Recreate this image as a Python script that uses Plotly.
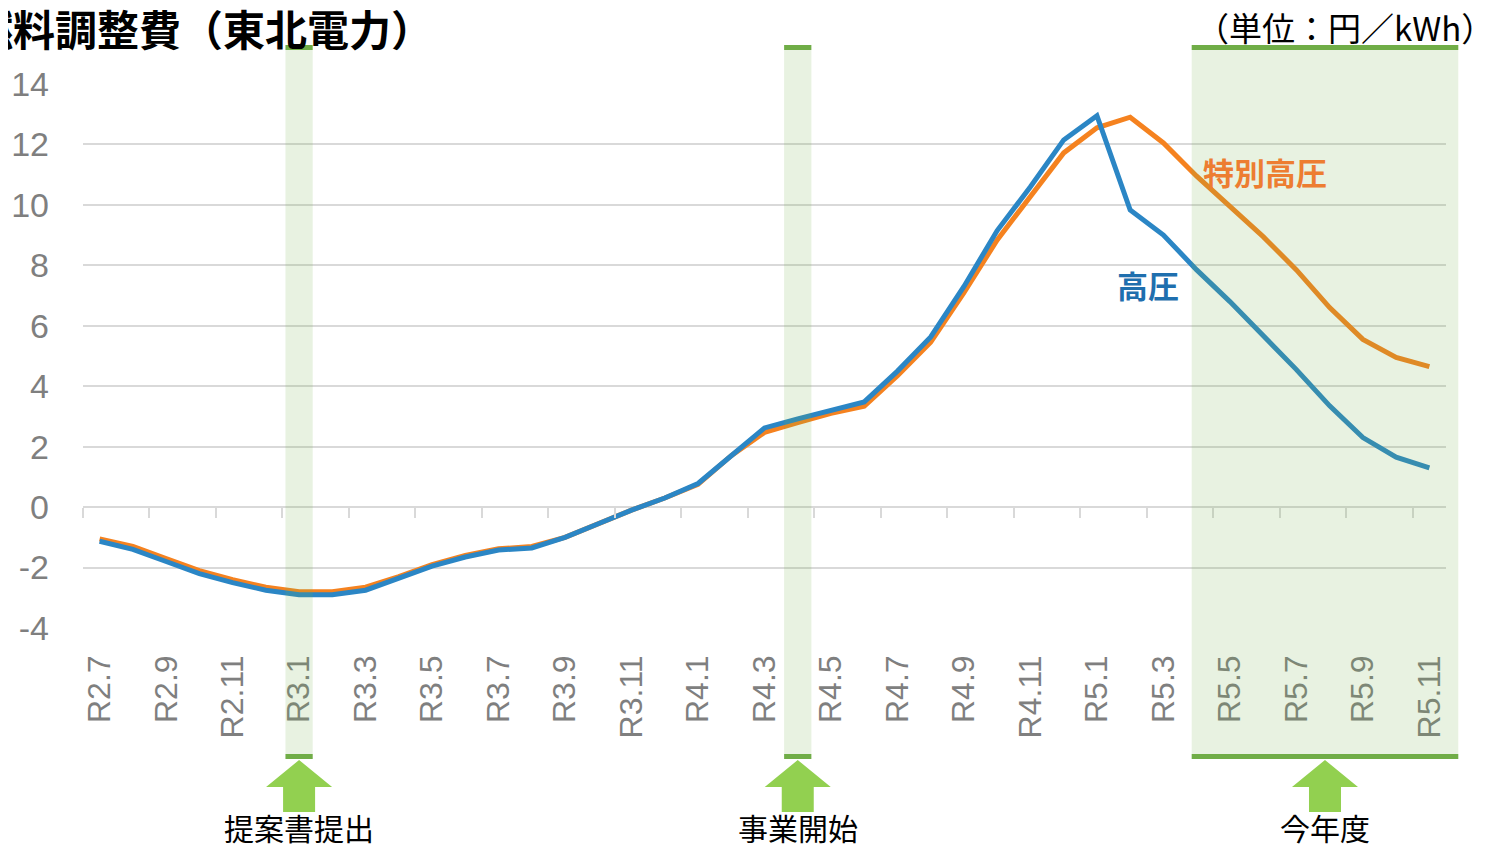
import plotly.graph_objects as go

# ---------------- data ----------------
months = (["R2.%d" % m for m in range(7, 13)] +
          ["R3.%d" % m for m in range(1, 13)] +
          ["R4.%d" % m for m in range(1, 13)] +
          ["R5.%d" % m for m in range(1, 12)])

koatsu = [-1.13, -1.4, -1.8, -2.2, -2.5, -2.75, -2.9, -2.9, -2.75, -2.35,
          -1.95, -1.65, -1.42, -1.35, -1.0, -0.55, -0.1, 0.3, 0.78, 1.7,
          2.62, 2.92, 3.22, 3.48, 4.5, 5.63, 7.3, 9.15, 10.6, 12.15,
          12.95, 9.83, 9.0, 7.85, 6.8, 5.7, 4.55, 3.35, 2.3, 1.65, 1.3]

tokubetsu = [-1.05, -1.3, -1.7, -2.1, -2.4, -2.65, -2.8, -2.8, -2.65, -2.3,
             -1.9, -1.6, -1.38, -1.3, -1.0, -0.55, -0.1, 0.3, 0.75, 1.7,
             2.47, 2.8, 3.1, 3.34, 4.35, 5.46, 7.1, 8.84, 10.25, 11.72,
             12.55, 12.9, 12.05, 10.95, 9.95, 8.95, 7.85, 6.6, 5.55, 4.95, 4.65]

tick_labels = months[::2]
y_ticks = [-4, -2, 0, 2, 4, 6, 8, 10, 12, 14]
y_tick_text = [str(v) for v in y_ticks]

# highlighted periods: (centre month, half width in months, label)
events = [("R3.1", 0.41, "提案書提出"),
          ("R4.4", 0.41, "事業開始")]
current_year = ("R5.4", "R5.11", "今年度")

# ---------------- layout helpers ----------------
OFF = 8                      # default page body margin
W, H = 1486 - OFF, 849 - OFF
L, R, T, B = 83, 1446, 84, 628   # plot area in page pixels
XMIN, XMAX = -0.5, len(months) - 0.5


def py(p):  # page pixel row -> paper y
    return (B - p) / (B - T)


def pxx(p):  # page pixel column -> paper x
    return (p - L) / (R - L)


def cat_to_paper(c):  # category index -> paper x (same mapping as x axis)
    return (c - XMIN) / (XMAX - XMIN)


idx = list(range(len(months)))
BLUE = "#2b86c5"
ORANGE = "#f5821f"
GREEN = "#70ad47"
ARROW = "#92d050"
FILL = "rgba(120,180,80,0.17)"
GRID = "#d9d9d9"
GRAY = "#7f7f7f"
CJK = "Noto Sans CJK JP"

fig = go.Figure()
fig.add_trace(go.Scatter(x=idx, y=tokubetsu, mode="lines", name="特別高圧",
                         line=dict(color=ORANGE, width=5)))
fig.add_trace(go.Scatter(x=idx, y=koatsu, mode="lines", name="高圧",
                         line=dict(color=BLUE, width=5)))
# invisible trace for the tick axis at zero
fig.add_trace(go.Scatter(x=[idx[0], idx[-1]], y=[0, 0], mode="lines",
                         line=dict(width=0), xaxis="x2", hoverinfo="skip",
                         showlegend=False))

shapes = []
annotations = []

spans = []
for m, hw, lab in events:
    c = months.index(m)
    spans.append((c - hw, c + hw, c, lab))
c0 = months.index(current_year[0]) - 0.15
c1 = months.index(current_year[1]) + 0.87
spans.append((c0, c1, (c0 + c1) / 2, current_year[2]))

for x0, x1, xc, lab in spans:
    X0, X1, XC = cat_to_paper(x0), cat_to_paper(x1), cat_to_paper(xc)
    shapes.append(dict(type="rect", xref="paper", yref="paper", x0=X0, x1=X1,
                       y0=py(754), y1=py(50), fillcolor=FILL, line_width=0,
                       layer="above"))
    shapes.append(dict(type="rect", xref="paper", yref="paper", x0=X0, x1=X1,
                       y0=py(50), y1=py(45), fillcolor=GREEN, line_width=0,
                       layer="above"))
    shapes.append(dict(type="rect", xref="paper", yref="paper", x0=X0, x1=X1,
                       y0=py(759), y1=py(754), fillcolor=GREEN, line_width=0,
                       layer="above"))
    shapes.append(dict(type="path", xref="paper", yref="paper",
                       xsizemode="pixel", ysizemode="pixel",
                       xanchor=XC, yanchor=py(760),
                       path="M 0,0 L 33,-27 L 16,-27 L 16,-52 L -16,-52 "
                            "L -16,-27 L -33,-27 Z",
                       fillcolor=ARROW, line_width=0, layer="above"))
    annotations.append(dict(xref="paper", yref="paper", x=XC, y=py(827),
                            text=lab, showarrow=False, xanchor="center",
                            yanchor="middle",
                            font=dict(family=CJK, size=30, color="#000000")))

annotations += [
    dict(xref="paper", yref="paper", x=pxx(-31), y=py(27),
         text="<b>燃料調整費（東北電力）</b>", showarrow=False,
         xanchor="left", yanchor="middle",
         font=dict(family=CJK, size=42, color="#000000")),
    dict(xref="paper", yref="paper", x=pxx(1496), y=py(27),
         text="（単位：円／kWh）", showarrow=False,
         xanchor="right", yanchor="middle",
         font=dict(family=CJK, size=33, color="#000000")),
    dict(xref="x", yref="y", x=35.07, y=11.1, text="<b>特別高圧</b>",
         showarrow=False, xanchor="center", yanchor="middle",
         font=dict(family=CJK, size=31, color="#ed7d31")),
    dict(xref="x", yref="y", x=31.55, y=7.35, text="<b>高圧</b>",
         showarrow=False, xanchor="center", yanchor="middle",
         font=dict(family=CJK, size=31, color="#1f6fae")),
]

fig.update_layout(
    width=W, height=H,
    margin=dict(l=L - OFF, r=W - (R - OFF), t=T - OFF, b=H - (B - OFF),
                pad=0, autoexpand=False),
    paper_bgcolor="white", plot_bgcolor="white",
    showlegend=False,
    shapes=shapes, annotations=annotations,
    xaxis=dict(range=[XMIN, XMAX], automargin=False,
               tickmode="array", tickvals=idx[::2], ticktext=tick_labels,
               tickangle=-90, showgrid=False, zeroline=False,
               showline=False, ticks="",
               ticklabelstandoff=20,
               tickfont=dict(family="Liberation Sans", size=32, color=GRAY)),
    xaxis2=dict(range=[XMIN, XMAX], overlaying="x", automargin=False,
                anchor="free", position=4 / 18, side="bottom",
                tickmode="array",
                tickvals=[i - 0.5 for i in idx[::2]],
                ticks="outside", ticklen=10, tickwidth=2, tickcolor=GRID,
                showticklabels=False, showgrid=False, zeroline=False,
                showline=False),
    yaxis=dict(range=[-4, 14], automargin=False,
               tickmode="array", tickvals=y_ticks,
               ticktext=y_tick_text,
               showgrid=True, gridcolor=GRID, gridwidth=2,
               zeroline=False, showline=False, ticks="",
               ticklabelstandoff=33,
               tickfont=dict(family="Liberation Sans", size=34, color=GRAY)),
)

fig.write_html("out.html")
